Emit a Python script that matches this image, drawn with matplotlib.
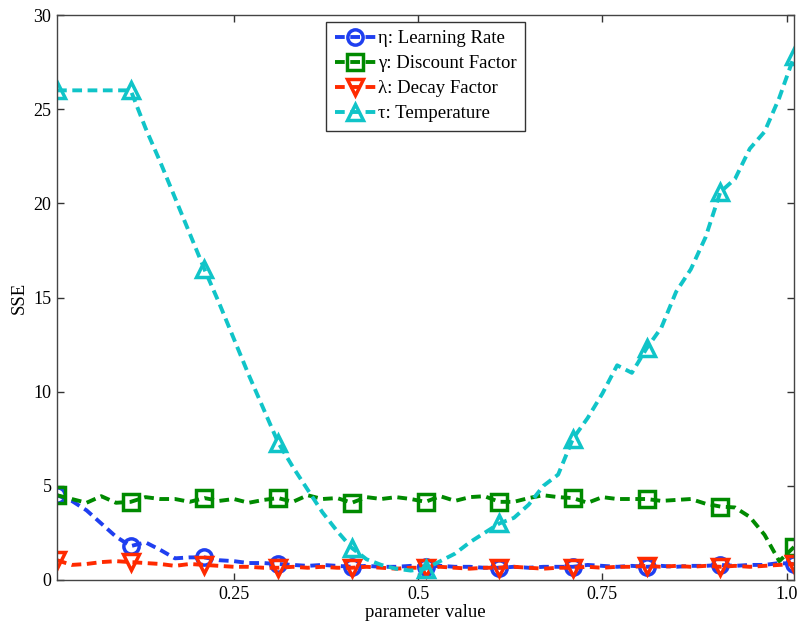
"""
SSE against parameter value for the four learning parameters
"""
import numpy as np
import matplotlib
matplotlib.use("Agg")
import matplotlib.pyplot as plt

plt.rcParams['font.family'] = ['Liberation Serif', 'DejaVu Serif']
plt.rcParams['lines.scale_dashes'] = False

# parameter grid, one sample every 0.02 (markers every 0.1)
param = np.round(np.arange(0.01, 1.02, 0.02), 2)

eta_sse = [4.5, 4.2, 3.7, 3.0, 2.3, 1.8,
           2.0, 1.6, 1.15, 1.2, 1.2,
           1.05, 1.0, 0.9, 0.9, 0.85,
           0.8, 0.75, 0.8, 0.75, 0.7,
           0.75, 0.7, 0.7, 0.75, 0.7,
           0.75, 0.7, 0.7, 0.65, 0.65,
           0.7, 0.65, 0.7, 0.7, 0.7,
           0.8, 0.75, 0.7, 0.75, 0.7,
           0.75, 0.7, 0.75, 0.75, 0.8,
           0.75, 0.8, 0.8, 0.9, 0.85]

gamma_sse = [4.5, 4.3, 4.1, 4.45, 4.1, 4.15,
             4.4, 4.3, 4.3, 4.15, 4.35,
             4.2, 4.3, 4.1, 4.25, 4.35,
             4.15, 4.5, 4.3, 4.35, 4.1,
             4.4, 4.3, 4.4, 4.3, 4.15,
             4.45, 4.2, 4.4, 4.45, 4.15,
             4.15, 4.35, 4.5, 4.4, 4.35,
             4.1, 4.4, 4.3, 4.3, 4.3,
             4.2, 4.25, 4.3, 4.05, 3.9,
             3.85, 3.35, 2.4, 1.0, 1.75]

lambda_sse = [1.05, 0.8, 0.85, 0.95, 1.0, 0.95,
              0.9, 0.85, 0.75, 0.85, 0.8,
              0.75, 0.7, 0.7, 0.65, 0.65,
              0.7, 0.65, 0.7, 0.65, 0.65,
              0.7, 0.65, 0.6, 0.65, 0.65,
              0.7, 0.65, 0.6, 0.65, 0.65,
              0.7, 0.65, 0.6, 0.65, 0.65,
              0.7, 0.65, 0.7, 0.7, 0.75,
              0.7, 0.75, 0.7, 0.75, 0.7,
              0.75, 0.7, 0.75, 0.8, 0.85]

tau_sse = [26.0, 26.0, 26.0, 26.0, 26.0, 26.0,
           24.0, 22.2, 20.3, 18.4, 16.5,
           14.7, 12.8, 10.9, 9.1, 7.3,
           6.0, 4.8, 3.6, 2.6, 1.7,
           1.1, 0.8, 0.6, 0.5, 0.6,
           1.0, 1.4, 2.0, 2.5, 3.0,
           3.3, 4.0, 5.0, 5.6, 7.5,
           8.6, 9.9, 11.4, 11.0, 12.3,
           13.4, 15.3, 16.5, 18.2, 20.6,
           21.3, 22.9, 23.8, 25.6, 27.8]

series = [
    (eta_sse, 'o', '#1f3ff0', '\u03b7: Learning Rate'),
    (gamma_sse, 's', '#008a00', '\u03b3: Discount Factor'),
    (lambda_sse, 'v', '#ff2a00', '\u03bb: Decay Factor'),
    (tau_sse, '^', '#10c4c8', '\u03c4: Temperature'),
]

fig = plt.figure(figsize=(8.0, 6.26), dpi=100)
ax = fig.add_axes([0.0713, 0.0735, 0.9212, 0.9025])

for values, marker, color, label in series:
    ax.plot(param, values, linestyle='--', dashes=(7, 4), linewidth=2.8,
            color=color, marker=marker, markevery=5, markersize=11,
            markerfacecolor='none', markeredgewidth=2.5, label=label)

ax.set_xlim(0.01, 1.01)
ax.set_ylim(0, 30)
ax.set_xticks([0.25, 0.5, 0.75, 1.0])
ax.set_xticklabels(['0.25', '0.5', '0.75', '1.0'])
ax.set_yticks([0, 5, 10, 15, 20, 25, 30])
ax.tick_params(direction='in', length=5, width=1, top=True, right=True,
               labelsize=13, colors='#333333', labelcolor='black', pad=4)
for spine in ax.spines.values():
    spine.set_color('#444444')
    spine.set_linewidth(1)

ax.set_xlabel('parameter value', fontsize=13.5, labelpad=1)
ax.set_ylabel('SSE', fontsize=13.5, labelpad=4)

leg = ax.legend(loc='upper center', bbox_to_anchor=(0.5, 0.988),
                borderaxespad=0, fontsize=13.5, handlelength=2.2,
                labelspacing=0.42, handletextpad=0.1, borderpad=0.45,
                fancybox=False, framealpha=1, edgecolor='#333333')
leg.get_frame().set_linewidth(1)

fig.savefig('out.png', dpi=100)
